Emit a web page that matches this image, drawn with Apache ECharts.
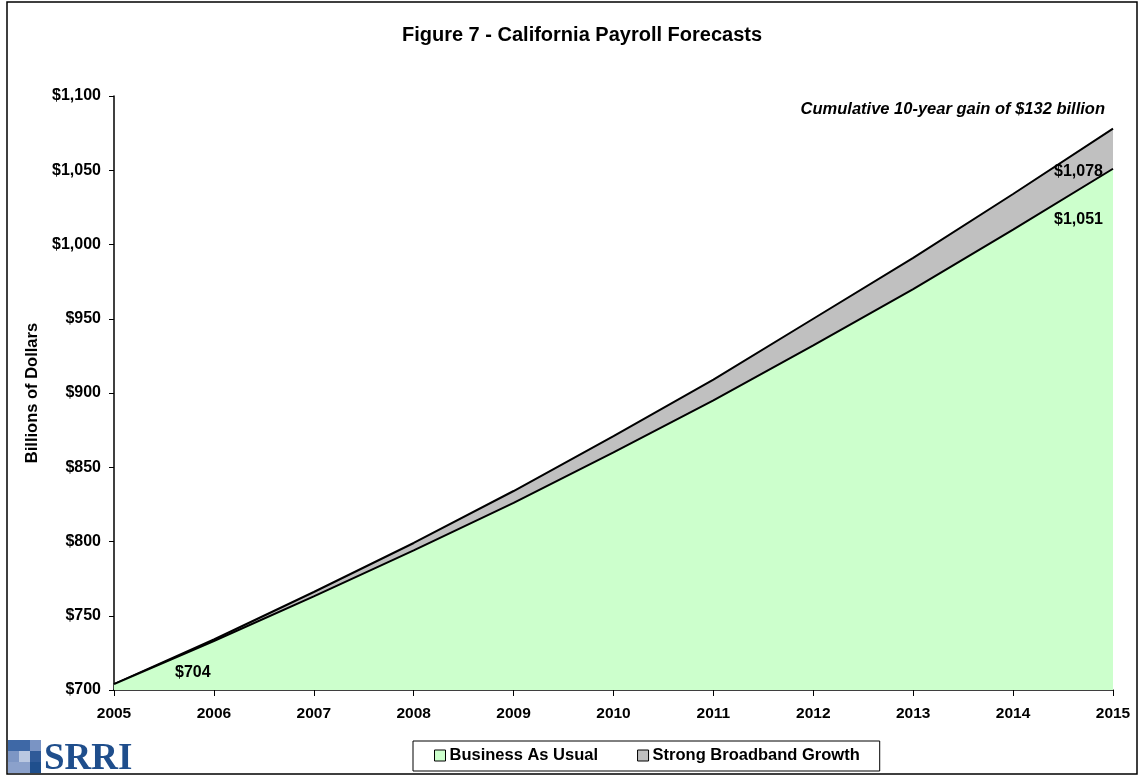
<!DOCTYPE html>
<html>
<head>
<meta charset="utf-8">
<title>California Payroll Forecasts</title>
<script src="https://cdn.jsdelivr.net/npm/echarts@6/dist/echarts.min.js"></script>
<style>
  html, body { margin: 0; padding: 0; background: #fff; }
  #chart { width: 1140px; height: 776px; }
</style>
</head>
<body>
<div id="chart"></div>
<script>
// Forecast years and payroll totals (billions of dollars)
const years = [2005, 2006, 2007, 2008, 2009, 2010, 2011, 2012, 2013, 2014, 2015];
const businessAsUsual = [704, 733, 763, 794, 826, 860, 895, 932, 970, 1010, 1051];
const strongBroadband = [704, 734, 766, 799, 834, 871, 909, 950, 991, 1034, 1078];
const seriesNames = ['Business As Usual', 'Strong Broadband Growth'];
const yTicks = [700, 750, 800, 850, 900, 950, 1000, 1050, 1100];

const FONT = '"Liberation Sans", Arial, sans-serif';
const money = v => '$' + Math.round(v).toLocaleString('en-US');

// Cumulative gain over the forecast window
const cumulativeGain = strongBroadband.reduce((s, v, i) => s + (v - businessAsUsual[i]), 0);

const last = years.length - 1;
const labelStyle = { show: true, color: '#000', fontFamily: FONT, fontWeight: 'bold', fontSize: 16 };

const bauData = years.map((y, i) => {
  const item = { value: [y, businessAsUsual[i]] };
  if (i === 0) {
    item.label = Object.assign({}, labelStyle, { position: 'right', offset: [56, -11], formatter: p => money(p.value[1]) });
  } else if (i === last) {
    item.label = Object.assign({}, labelStyle, { position: 'left', offset: [-5, 51], formatter: p => money(p.value[1]) });
  }
  return item;
});
const broadbandData = years.map((y, i) => {
  const item = { value: [y, strongBroadband[i]] };
  if (i === last) {
    item.label = Object.assign({}, labelStyle, { position: 'left', offset: [-5, 43], formatter: p => money(p.value[1]) });
  }
  return item;
});

const chart = echarts.init(document.getElementById('chart'), null, { renderer: 'canvas' });

chart.setOption({
  backgroundColor: '#ffffff',
  animation: false,
  title: {
    text: 'Figure 7 - California Payroll Forecasts',
    left: 577, top: 20, textAlign: 'center',
    textStyle: { fontFamily: FONT, fontWeight: 'bold', fontSize: 20, color: '#000' }
  },
  grid: { left: 114, right: 27, top: 96, bottom: 86, containLabel: false },
  legend: {
    left: 413, top: 741,
    padding: [6, 20, 7, 21],
    itemGap: 39,
    itemWidth: 11, itemHeight: 11,
    borderColor: '#000', borderWidth: 1,
    icon: 'rect',
    textStyle: { fontFamily: FONT, fontWeight: 'bold', fontSize: 16.5, color: '#000', padding: [0, 0, 0, -1] },
    data: [
      { name: seriesNames[0], itemStyle: { color: '#CCFFCC', borderColor: '#000', borderWidth: 1 } },
      { name: seriesNames[1], itemStyle: { color: '#C0C0C0', borderColor: '#000', borderWidth: 1 } }
    ]
  },
  xAxis: {
    type: 'value', min: 2005, max: 2015, interval: 1,
    axisLine: { show: true, lineStyle: { color: '#000', width: 1.5 } },
    axisTick: { show: true, length: 6, lineStyle: { color: '#000', width: 1 } },
    axisLabel: { margin: 16, fontFamily: FONT, fontWeight: 'bold', fontSize: 15.5, color: '#000', formatter: v => String(v) },
    splitLine: { show: false }
  },
  yAxis: {
    type: 'value', min: yTicks[0], max: yTicks[yTicks.length - 1], interval: 50,
    name: 'Billions of Dollars', nameLocation: 'middle', nameGap: 69, nameRotate: 90,
    nameTextStyle: { fontFamily: FONT, fontWeight: 'bold', fontSize: 16.5, color: '#000' },
    axisLine: { show: true, lineStyle: { color: '#000', width: 1.5 } },
    axisTick: { show: true, length: 5, lineStyle: { color: '#000', width: 1 } },
    axisLabel: { margin: 13, fontFamily: FONT, fontWeight: 'bold', fontSize: 16, color: '#000', formatter: v => money(v) },
    splitLine: { show: false }
  },
  series: [
    {
      name: seriesNames[1], type: 'line', data: broadbandData,
      symbol: 'circle', symbolSize: 0, showSymbol: true, smooth: false,
      lineStyle: { color: '#000', width: 2 },
      itemStyle: { color: '#C0C0C0' },
      areaStyle: { color: '#C0C0C0', opacity: 1, origin: 'start' },
      emphasis: { disabled: true }, z: 2
    },
    {
      name: seriesNames[0], type: 'line', data: bauData,
      symbol: 'circle', symbolSize: 0, showSymbol: true, smooth: false,
      lineStyle: { color: '#000', width: 2 },
      itemStyle: { color: '#CCFFCC' },
      areaStyle: { color: '#CCFFCC', opacity: 1, origin: 'start' },
      emphasis: { disabled: true }, z: 3
    }
  ],
  graphic: [
    // outer frame
    { type: 'rect', shape: { x: 7, y: 2, width: 1130, height: 772 }, style: { fill: null, stroke: '#000', lineWidth: 1.5 }, silent: true, z: -1 },
    // annotation
    {
      type: 'text', right: 35, top: 101,
      style: {
        text: 'Cumulative 10-year gain of ' + money(cumulativeGain) + ' billion',
        font: 'italic bold 16.5px ' + FONT, fill: '#000'
      }
    },
    // SRRI logo
    {
      type: 'group', left: 8, top: 740,
      children: [
        { type: 'rect', shape: { x: 0, y: 0, width: 22, height: 11 }, style: { fill: '#3E68A6' } },
        { type: 'rect', shape: { x: 22, y: 0, width: 11, height: 11 }, style: { fill: '#7A94C4' } },
        { type: 'rect', shape: { x: 0, y: 11, width: 11, height: 11 }, style: { fill: '#7D96C4' } },
        { type: 'rect', shape: { x: 11, y: 11, width: 11, height: 11 }, style: { fill: '#BAC8E1' } },
        { type: 'rect', shape: { x: 22, y: 11, width: 11, height: 11 }, style: { fill: '#2F5A98' } },
        { type: 'rect', shape: { x: 0, y: 22, width: 22, height: 11 }, style: { fill: '#8BA1CB' } },
        { type: 'rect', shape: { x: 22, y: 22, width: 11, height: 11 }, style: { fill: '#1F4F8D' } },
        { type: 'text', x: 36, y: 1, style: { text: 'SRRI', font: 'bold 37px "Liberation Serif", "Times New Roman", serif', fill: '#1F4E8C' } }
      ]
    }
  ]
});
</script>
</body>
</html>
